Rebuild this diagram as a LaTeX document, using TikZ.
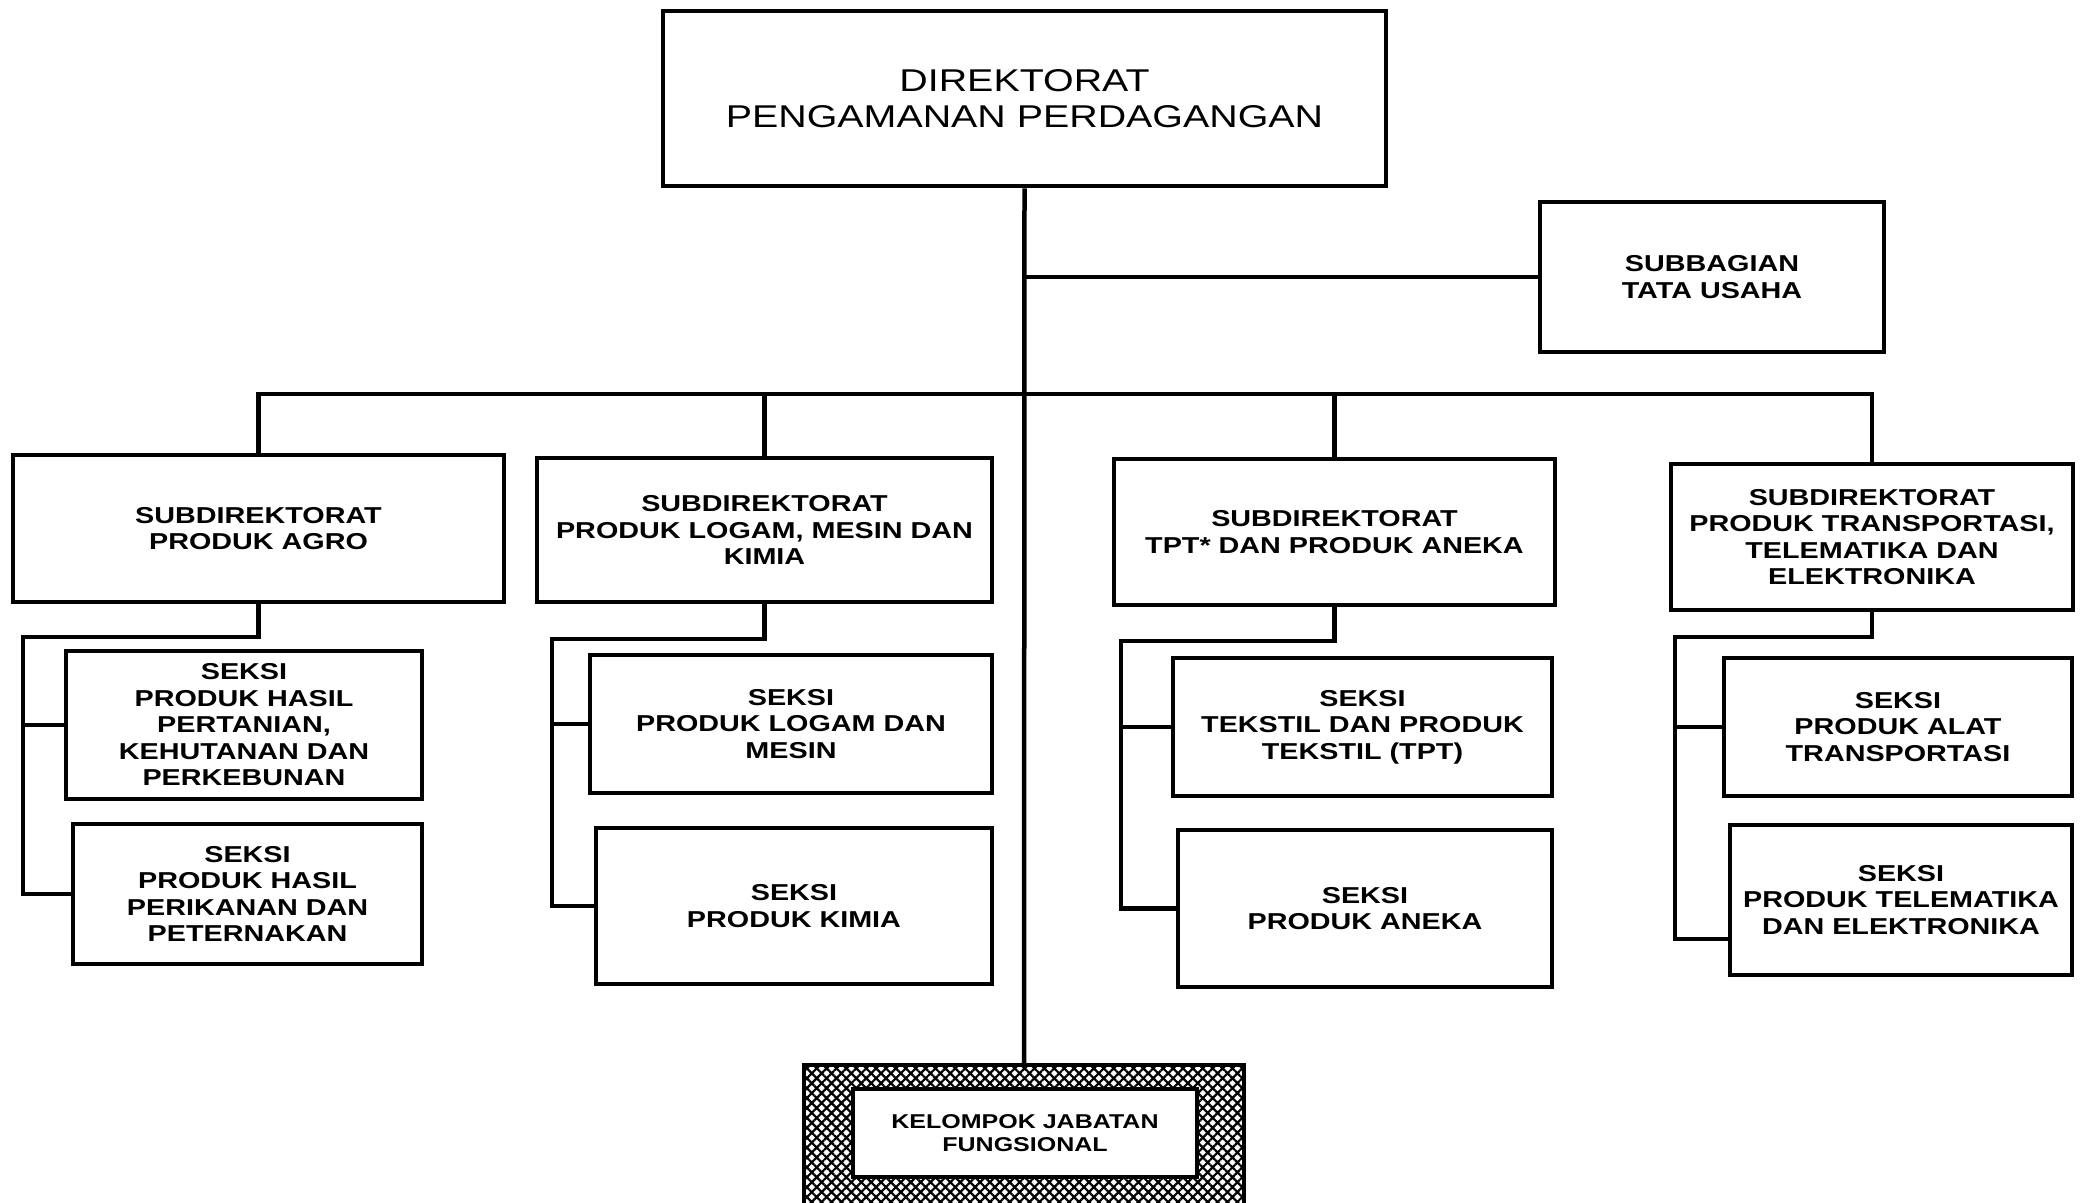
\documentclass[tikz,border=0pt]{standalone}
\usepackage{fontspec}
\newfontfamily\orgfont[FakeStretch=1.25]{Liberation Sans}
\usetikzlibrary{patterns.meta}
\begin{document}
\begin{tikzpicture}[x=1pt,y=-1pt,
  ln/.style={line width=4.5pt},
  box/.style={draw,line width=4.5pt,inner sep=0pt,align=center,fill=white,
    font=\orgfont\bfseries\fontsize{23}{26.5}\selectfont},
  topbox/.style={box,font=\orgfont\fontsize{31.5}{36}\selectfont},
  kbox/.style={box,line width=4pt,font=\orgfont\bfseries\fontsize{20}{23}\selectfont},
  hatchframe/.style={draw,line width=4pt,inner sep=0pt,
    pattern={Hatch[angle=45,distance=7pt,line width=2.2pt]},pattern color=black}]
\clip (0,0) rectangle (2080,1202);
\fill[white] (0,0) rectangle (2080,1202);

% top level
\node[topbox,minimum width=723pt,minimum height=175pt] (dir) at (1024.5,98.5)
  {DIREKTORAT\\PENGAMANAN PERDAGANGAN};
\node[box,minimum width=344pt,minimum height=150pt] (tu) at (1712,277)
  {SUBBAGIAN\\TATA USAHA};

% subdirectorates
\node[box,minimum width=491pt,minimum height=147pt] (agro) at (258.5,528.5)
  {SUBDIREKTORAT\\PRODUK AGRO};
\node[box,minimum width=455pt,minimum height=144pt] (logam) at (764.5,530)
  {SUBDIREKTORAT\\PRODUK LOGAM, MESIN DAN\\KIMIA};
\node[box,minimum width=441pt,minimum height=146pt] (tpt) at (1334.5,532)
  {SUBDIREKTORAT\\TPT* DAN PRODUK ANEKA};
\node[box,minimum width=402pt,minimum height=146pt] (trans) at (1872,537)
  {SUBDIREKTORAT\\PRODUK TRANSPORTASI,\\TELEMATIKA DAN\\ELEKTRONIKA};

% sections
\node[box,minimum width=356pt,minimum height=148pt] (as1) at (244,725)
  {SEKSI\\PRODUK HASIL\\PERTANIAN,\\KEHUTANAN DAN\\PERKEBUNAN};
\node[box,minimum width=349pt,minimum height=140pt] (as2) at (247.5,894)
  {SEKSI\\PRODUK HASIL\\PERIKANAN DAN\\PETERNAKAN};
\node[box,minimum width=402pt,minimum height=138pt] (ls1) at (791,724)
  {SEKSI\\PRODUK LOGAM DAN\\MESIN};
\node[box,minimum width=396pt,minimum height=156pt] (ls2) at (794,906)
  {SEKSI\\PRODUK KIMIA};
\node[box,minimum width=379pt,minimum height=138pt] (tp1) at (1362.5,727)
  {SEKSI\\TEKSTIL DAN PRODUK\\TEKSTIL (TPT)};
\node[box,minimum width=374pt,minimum height=157pt] (tp2) at (1365,908.5)
  {SEKSI\\PRODUK ANEKA};
\node[box,minimum width=348pt,minimum height=138pt] (ts1) at (1898,727)
  {SEKSI\\PRODUK ALAT\\TRANSPORTASI};
\node[box,minimum width=342pt,minimum height=150pt] (ts2) at (1901,900)
  {SEKSI\\PRODUK TELEMATIKA\\DAN ELEKTRONIKA};

% functional group
\node[hatchframe,minimum width=440pt,minimum height=170pt,anchor=north] (kframe) at (1024,1064) {};
\node[kbox,minimum width=344pt,minimum height=88pt] (kjf) at (1025,1133)
  {KELOMPOK JABATAN\\FUNGSIONAL};

% connectors
\coordinate (bus) at (259,394);
\draw[ln] (dir.south) -- (kframe.north);
\draw[ln] (dir.south |- tu.west) -- (tu.west);
\draw[ln] (agro.north) -- (agro.north |- bus) -- (trans.north |- bus) -- (trans.north);
\draw[ln] (logam.north) -- (logam.north |- bus);
\draw[ln] (tpt.north) -- (tpt.north |- bus);

\coordinate (arail) at (23,637);
\draw[ln] (agro.south) |- (arail) |- (as2.west);
\draw[ln] (arail |- as1.west) -- (as1.west);

\coordinate (lrail) at (552,639);
\draw[ln] (logam.south) |- (lrail) |- (ls2.west);
\draw[ln] (lrail |- ls1.west) -- (ls1.west);

\coordinate (prail) at (1121,641);
\draw[ln] (tpt.south) |- (prail) |- (tp2.west);
\draw[ln] (prail |- tp1.west) -- (tp1.west);

\coordinate (trail) at (1675,637);
\draw[ln] (trans.south) |- (trail) |- ([yshift=-39pt]ts2.west);
\draw[ln] (trail |- ts1.west) -- (ts1.west);
\end{tikzpicture}
\end{document}
